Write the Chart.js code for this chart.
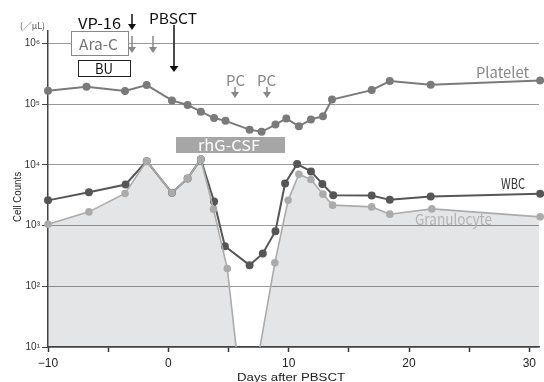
<!DOCTYPE html>
<html>
<head>
<meta charset="utf-8">
<script src="https://cdn.jsdelivr.net/npm/chart.js@4.4.1/dist/chart.umd.min.js"></script>
<style>
html, body { margin: 0; padding: 0; background: #fff; }
#wrap { width: 544px; height: 382px; }
</style>
</head>
<body>
<div id="wrap"><canvas id="grafica" width="544" height="382"></canvas></div>
<script>
// --- datos ---
const diasPlaquetas = [-10, -6.8, -3.6, -1.8, 0.3, 1.6, 2.7, 3.8, 4.75, 6.75, 7.75, 8.9, 9.8, 10.85, 11.85, 12.85, 13.6, 16.9, 18.4, 21.8, 30.9];
const plaquetas = [166000, 193000, 164000, 206000, 115000, 97000, 75000, 59000, 53000, 38000, 35000, 46000, 58000, 43000, 56000, 63000, 119000, 170000, 240000, 208000, 245000];

const diasWBC = [-10, -6.6, -3.55, -1.8, 0.3, 1.6, 2.7, 3.8, 4.7, 6.75, 7.85, 8.9, 9.7, 10.7, 11.85, 12.8, 13.7, 16.9, 18.4, 21.8, 30.9];
const wbc = [2600, 3550, 4750, 11500, 3460, 5970, 12400, 2500, 457, 223, 347, 809, 4930, 10300, 7800, 4850, 3150, 3130, 2650, 3000, 3330];

const diasGran = [-10, -6.6, -3.6, -1.8, 0.3, 1.6, 2.7, 3.75, 4.9, 6.4, 8.85, 9.95, 10.85, 11.85, 12.85, 13.65, 16.9, 18.4, 21.9, 30.9];
const granulocitos = [1050, 1680, 3380, 11500, 3460, 5970, 12400, 1860, 196, 0.43, 243, 2600, 7000, 5750, 3290, 2170, 2030, 1540, 1880, 1390];

const ticksX = [-10, -5, 0, 5, 10, 15, 20, 25, 30];
const ticksY = [10, 100, 1000, 10000, 100000, 1000000];

const sup = { 1: '¹', 2: '²', 3: '³', 4: '⁴', 5: '⁵', 6: '⁶' };
const pares = (xs, ys) => xs.map((x, i) => ({ x: x, y: ys[i] }));
const radio = c => (c.raw && c.raw.y < 10) ? 0 : 3;

// texto ajustado a un ancho dado
function texto(ctx, t, cx, cy, ancho, font, color) {
    ctx.save();
    ctx.font = font;
    const m = ctx.measureText(t).width;
    ctx.translate(cx, cy);
    if (ancho) ctx.scale(ancho / m, 1);
    ctx.fillStyle = color;
    ctx.textAlign = 'center';
    ctx.textBaseline = 'middle';
    ctx.fillText(t, 0, 0);
    ctx.restore();
}

function flecha(ctx, x, y0, y1, w, color) {
    ctx.save();
    ctx.strokeStyle = color; ctx.fillStyle = color; ctx.lineWidth = 1.5;
    ctx.beginPath(); ctx.moveTo(x, y0); ctx.lineTo(x, y1 - 5); ctx.stroke();
    ctx.beginPath(); ctx.moveTo(x - w / 2, y1 - 6); ctx.lineTo(x + w / 2, y1 - 6); ctx.lineTo(x, y1); ctx.closePath(); ctx.fill();
    ctx.restore();
}

const anotaciones = {
    id: 'anotaciones',
    afterDraw(chart) {
        const ctx = chart.ctx;
        const f = 'px "Noto Sans CJK JP", "Liberation Sans", sans-serif';

        texto(ctx, '(／μL)', 32.5, 26, 25, '9' + f, '#555');
        ctx.save();
        ctx.translate(18, 197); ctx.rotate(-Math.PI / 2);
        texto(ctx, 'Cell Counts', 0, 0, 50, '10px "Liberation Sans", sans-serif', '#222');
        ctx.restore();
        texto(ctx, 'Days after PBSCT', 291, 378, 108, '10px "Liberation Sans", sans-serif', '#222');

        // quimioterapia
        texto(ctx, 'VP-16', 99.5, 23, 43, '15' + f, '#111');
        flecha(ctx, 132, 14, 30, 8, '#111');
        ctx.save();
        ctx.lineWidth = 1; ctx.strokeStyle = '#888'; ctx.fillStyle = '#fff';
        ctx.fillRect(71.5, 31.5, 57, 24); ctx.strokeRect(71.5, 31.5, 57, 24);
        ctx.strokeStyle = '#222'; ctx.fillRect(78.5, 60.5, 52, 16); ctx.strokeRect(78.5, 60.5, 52, 16);
        ctx.restore();
        texto(ctx, 'Ara-C', 98.5, 44, 39, '15' + f, '#777');
        texto(ctx, 'BU', 104, 68, 18, '15' + f, '#111');
        flecha(ctx, 132, 36, 53, 8, '#888');
        flecha(ctx, 153, 36, 53, 8, '#888');

        texto(ctx, 'PBSCT', 173, 18, 48, '15' + f, '#111');
        flecha(ctx, 174, 25, 72, 9, '#111');

        texto(ctx, 'PC', 235.5, 80, 19, '15' + f, '#888');
        flecha(ctx, 235, 87, 98, 8, '#888');
        texto(ctx, 'PC', 266.5, 80, 19, '15' + f, '#888');
        flecha(ctx, 267, 87, 98, 8, '#888');

        ctx.save(); ctx.fillStyle = '#a6a6a6'; ctx.fillRect(176, 137, 109, 16); ctx.restore();
        texto(ctx, 'rhG-CSF', 229, 145, 62, '15' + f, '#fff');

        texto(ctx, 'Platelet', 502.5, 72, 53, '15' + f, '#888');
        texto(ctx, 'WBC', 513, 183, 24, '15' + f, '#333');
        texto(ctx, 'Granulocyte', 453.5, 219, 77, '15' + f, '#b4b4b4');
    }
};

new Chart(document.getElementById('grafica'), {
    type: 'line',
    data: {
        datasets: [
            { label: 'Granulocyte', data: pares(diasGran, granulocitos), borderColor: '#ababab', backgroundColor: '#e4e5e7', pointBackgroundColor: '#ababab', borderWidth: 1.6, fill: 'start', order: 0 },
            { label: 'WBC', data: pares(diasWBC, wbc), borderColor: '#565656', pointBackgroundColor: '#565656', borderWidth: 2, fill: false, order: 1 },
            { label: 'Platelet', data: pares(diasPlaquetas, plaquetas), borderColor: '#7a7a7a', pointBackgroundColor: '#7a7a7a', borderWidth: 2, fill: false, order: 2 }
        ]
    },
    options: {
        responsive: false,
        animation: false,
        devicePixelRatio: 1,
        layout: { padding: { left: 0, right: 3, top: 31, bottom: 0 } },
        elements: {
            line: { tension: 0 },
            point: { radius: radio, borderWidth: 0, hoverRadius: 3 }
        },
        datasets: { line: { clip: { left: 8, right: 8, top: 8, bottom: 0 } } },
        plugins: {
            legend: { display: false },
            tooltip: { enabled: false },
            filler: { drawTime: 'beforeDraw' }
        },
        scales: {
            x: {
                type: 'linear', min: -10, max: 30.8,
                afterFit: s => { s.height = 35; },
                afterBuildTicks: s => { s.ticks = ticksX.map(v => ({ value: v })); },
                grid: { drawOnChartArea: false, tickLength: 5, tickColor: '#333', tickWidth: 1.5 },
                border: { color: '#444', width: 1.5 },
                ticks: {
                    padding: 4, color: '#222', autoSkip: false, maxRotation: 0,
                    font: { family: '"Liberation Sans", sans-serif', size: 12 },
                    callback: v => v % 10 === 0 ? (v < 0 ? '−' + Math.abs(v) : String(v)) : ''
                }
            },
            y: {
                type: 'logarithmic', min: 10, max: 1.6e6,
                afterFit: s => { s.width = 48; },
                afterBuildTicks: s => { s.ticks = ticksY.map(v => ({ value: v })); },
                grid: { color: '#333', lineWidth: 1, tickLength: 6, tickColor: '#444', tickBorderDash: [] },
                border: { color: '#444', width: 1.5, dash: [1, 1] },
                ticks: {
                    padding: 2, color: '#333',
                    font: { family: '"Liberation Sans", sans-serif', size: 10 },
                    callback: v => '10' + sup[Math.round(Math.log10(v))]
                }
            }
        }
    },
    plugins: [anotaciones]
});
</script>
</body>
</html>
